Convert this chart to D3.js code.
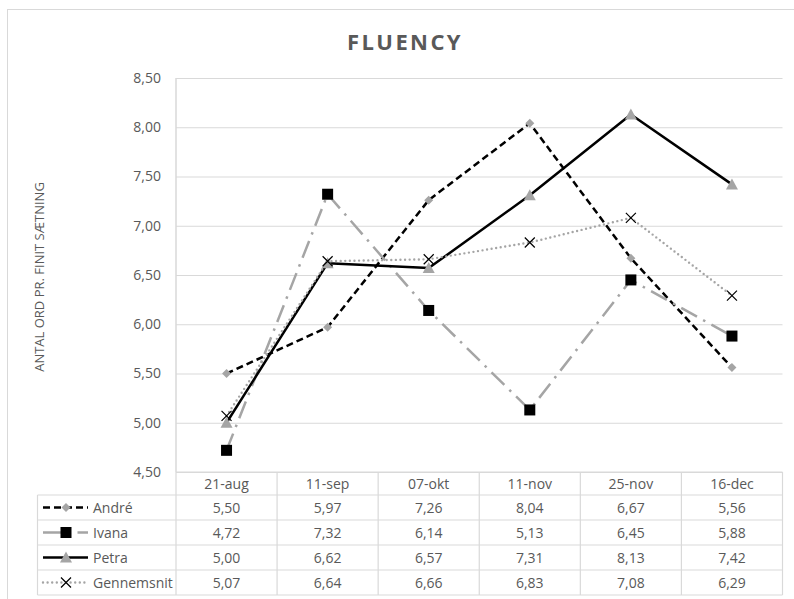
<!DOCTYPE html>
<html>
<head>
<meta charset="utf-8">
<script src="https://cdn.jsdelivr.net/npm/d3@7"></script>
<style>
  html, body { margin: 0; padding: 0; background: #fff; }
  svg { display: block; }
  text { font-family: "Open Sans", "Noto Sans", sans-serif; fill: #595959; }
</style>
</head>
<body>
<svg id="chart" width="794" height="599"></svg>
<script>
// Chart data
const categories = ["21-aug", "11-sep", "07-okt", "11-nov", "25-nov", "16-dec"];
const andre      = [5.50, 5.97, 7.26, 8.04, 6.67, 5.56];
const ivana      = [4.72, 7.32, 6.14, 5.13, 6.45, 5.88];
const petra      = [5.00, 6.62, 6.57, 7.31, 8.13, 7.42];
const gennemsnit = [5.07, 6.64, 6.66, 6.83, 7.08, 6.29];
const seriesNames = ["André", "Ivana", "Petra", "Gennemsnit"];
const yTicks = [4.5, 5, 5.5, 6, 6.5, 7, 7.5, 8, 8.5];
const chartTitle = "FLUENCY";
const yTitle = "ANTAL ORD PR. FINIT SÆTNING";

const series = [
  { name: seriesNames[0], values: andre,      stroke: "#000",    width: 2.5, dash: "7,4",        cap: "butt",  marker: "diamond" },
  { name: seriesNames[1], values: ivana,      stroke: "#a5a5a5", width: 2.5, dash: "18,7,2.5,7", cap: "butt",  marker: "square" },
  { name: seriesNames[2], values: petra,      stroke: "#000",    width: 2.5, dash: null,         cap: "butt",  marker: "triangle" },
  { name: seriesNames[3], values: gennemsnit, stroke: "#a5a5a5", width: 2.4, dash: "0,4.6",      cap: "round", marker: "cross" }
];

const svg = d3.select("#chart");
const fmt = v => d3.format(".2f")(v).replace(".", ",");
const textSize = "14px";

// Plot area
const plot = { left: 176, right: 782.5, top: 78, bottom: 472 };
const x = d3.scaleBand().domain(categories).range([plot.left, plot.right]);
const y = d3.scaleLinear().domain([4.5, 8.5]).range([plot.bottom, plot.top]);

// Outer chart frame
svg.append("rect")
  .attr("x", 7.5).attr("y", 9.5).attr("width", 800).attr("height", 600)
  .attr("fill", "none").attr("stroke", "#d9d9d9").attr("stroke-width", 1);

// Title
svg.append("text")
  .attr("x", 405).attr("y", 50)
  .attr("text-anchor", "middle")
  .style("font-size", "22px").style("font-weight", "bold")
  .style("letter-spacing", "2.4px")
  .text(chartTitle);

// Gridlines + y labels via axis
const yAxis = d3.axisLeft(y).tickValues(yTicks).tickFormat(fmt)
  .tickSize(-(plot.right - plot.left)).tickPadding(15);
const gy = svg.append("g").attr("transform", `translate(${plot.left},0)`).call(yAxis);
gy.select(".domain").remove();
gy.selectAll(".tick line").attr("stroke", "#d9d9d9").attr("stroke-width", 1);
gy.selectAll(".tick text").style("font-size", textSize).attr("fill", "#595959")
  .attr("font-family", null);

// Left axis line
svg.append("line")
  .attr("x1", plot.left).attr("x2", plot.left)
  .attr("y1", plot.top).attr("y2", plot.bottom)
  .attr("stroke", "#d9d9d9").attr("stroke-width", 1.5);

// Y axis title
svg.append("text")
  .attr("transform", `translate(44,${(plot.top + plot.bottom) / 2 + 2}) rotate(-90)`)
  .attr("text-anchor", "middle")
  .style("font-size", "13px")
  .text(yTitle);

// Data table
const rowH = 25;
const headTop = plot.bottom, headBottom = plot.bottom + 23;
const tableLeft = 37.5;
const tableBottom = headBottom + rowH * series.length;
const grid = svg.append("g").attr("stroke", "#d9d9d9").attr("stroke-width", 1.2);
// column lines
categories.forEach(c => {
  grid.append("line").attr("x1", x(c)).attr("x2", x(c)).attr("y1", headTop).attr("y2", tableBottom);
});
grid.append("line").attr("x1", plot.right).attr("x2", plot.right).attr("y1", headTop).attr("y2", tableBottom);
grid.append("line").attr("x1", tableLeft).attr("x2", tableLeft).attr("y1", headBottom).attr("y2", tableBottom);
// row lines
grid.append("line").attr("x1", plot.left).attr("x2", plot.right).attr("y1", headTop).attr("y2", headTop);
for (let r = 0; r <= series.length; r++) {
  const yy = headBottom + r * rowH;
  grid.append("line").attr("x1", tableLeft).attr("x2", plot.right).attr("y1", yy).attr("y2", yy);
}

// header labels
svg.append("g").selectAll("text").data(categories).join("text")
  .attr("x", d => x(d) + x.bandwidth() / 2)
  .attr("y", headTop + 16.5)
  .attr("text-anchor", "middle")
  .style("font-size", textSize)
  .text(d => d);

// marker drawing
function drawMarker(g, type, cx, cy) {
  if (type === "diamond") {
    g.append("path").attr("d", `M${cx},${cy - 4.5}L${cx + 4.5},${cy}L${cx},${cy + 4.5}L${cx - 4.5},${cy}Z`)
      .attr("fill", "#a5a5a5");
  } else if (type === "square") {
    g.append("rect").attr("x", cx - 5.5).attr("y", cy - 5.5).attr("width", 11).attr("height", 11)
      .attr("fill", "#000");
  } else if (type === "triangle") {
    g.append("path").attr("d", `M${cx},${cy - 6}L${cx + 6},${cy + 5}L${cx - 6},${cy + 5}Z`)
      .attr("fill", "#a5a5a5");
  } else if (type === "cross") {
    g.append("path").attr("d", `M${cx - 5},${cy - 5}L${cx + 5},${cy + 5}M${cx - 5},${cy + 5}L${cx + 5},${cy - 5}`)
      .attr("stroke", "#000").attr("stroke-width", 1.2).attr("fill", "none");
  }
}

// table rows: legend key + values
series.forEach((s, r) => {
  const cy = headBottom + r * rowH + rowH / 2;
  const key = svg.append("g");
  key.append("line").attr("x1", 43).attr("x2", 88).attr("y1", cy).attr("y2", cy)
    .attr("stroke", s.stroke).attr("stroke-width", s.width)
    .attr("stroke-dasharray", s.dash).attr("stroke-linecap", s.cap);
  drawMarker(key, s.marker, 66, cy);
  svg.append("text").attr("x", 93).attr("y", cy + 5).style("font-size", textSize)
    .text(s.name);
  svg.append("g").selectAll("text").data(s.values).join("text")
    .attr("x", (d, i) => x(categories[i]) + x.bandwidth() / 2)
    .attr("y", cy + 5)
    .attr("text-anchor", "middle")
    .style("font-size", textSize)
    .text(d => fmt(d));
});

// series lines and markers
const line = d3.line()
  .x((d, i) => x(categories[i]) + x.bandwidth() / 2)
  .y(d => y(d));
series.forEach(s => {
  const g = svg.append("g");
  g.append("path").datum(s.values).attr("d", line)
    .attr("fill", "none").attr("stroke", s.stroke).attr("stroke-width", s.width)
    .attr("stroke-dasharray", s.dash).attr("stroke-linecap", s.cap)
    .attr("stroke-linejoin", "round");
  s.values.forEach((v, i) => drawMarker(g, s.marker, x(categories[i]) + x.bandwidth() / 2, y(v)));
});
</script>
</body>
</html>
